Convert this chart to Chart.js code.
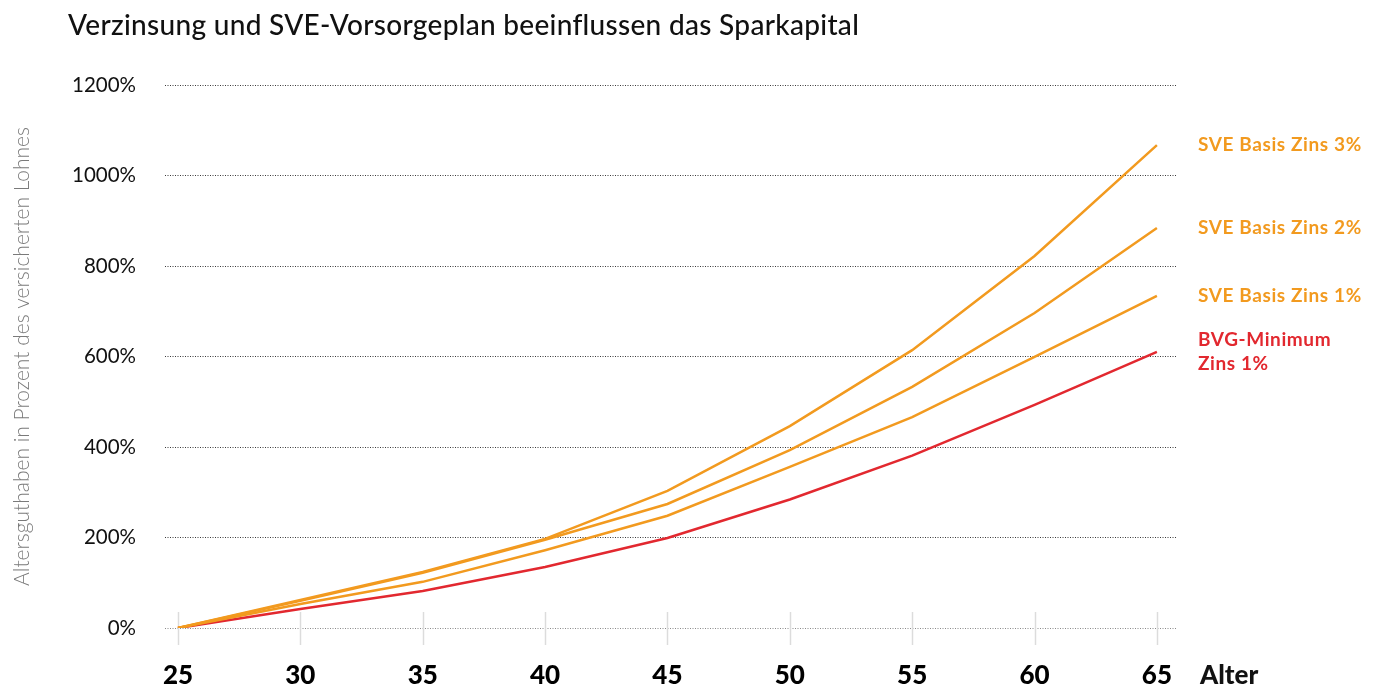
<!DOCTYPE html>
<html>
<head>
<meta charset="utf-8">
<script src="https://cdn.jsdelivr.net/npm/chart.js@4"></script>
<style>
    body { margin: 0; background: #fff; }
    #wrap { width: 1377px; height: 691px; }
</style>
</head>
<body>
<div id="wrap"><canvas id="chart" width="1377" height="691"></canvas></div>
<script>
const TITLE = 'Verzinsung und SVE-Vorsorgeplan beeinflussen das Sparkapital';
const Y_TITLE = 'Altersguthaben in Prozent des versicherten Lohnes';
const X_NAME = 'Alter';
const ORANGE = '#f29a1f';
const RED = '#e2282f';

const ages = [25, 30, 35, 40, 45, 50, 55, 60, 65];
const yTicks = [0, 200, 400, 600, 800, 1000, 1200];
const sve3 = [0, 62, 124, 197, 303, 446, 614, 822, 1067];
const sve2 = [0, 60, 122, 195, 274, 393, 533, 696, 884];
const sve1 = [0, 53, 102, 172, 248, 356, 466, 599, 734];
const bvg  = [0, 42, 82, 135, 199, 284, 381, 493, 610];
const seriesNames = [['SVE Basis Zins 3%'], ['SVE Basis Zins 2%'], ['SVE Basis Zins 1%'], ['BVG-Minimum', 'Zins 1%']];
const seriesColors = [ORANGE, ORANGE, ORANGE, RED];

const FONT = 'Lato, "Open Sans", sans-serif';

function toPoints(vals) {
    return ages.map((a, i) => ({x: a, y: vals[i]}));
}

// title, end labels, "Alter", short tick marks
const decorations = {
    id: 'decorations',
    beforeDatasetsDraw(chart) {
        const {ctx, scales: {x, y}} = chart;
        const y0 = y.getPixelForValue(0);
        ctx.save();
        ctx.strokeStyle = '#dcdcdc';
        ctx.lineWidth = 1.5;
        ages.forEach(a => {
            const px = Math.round(x.getPixelForValue(a)) + 0.5;
            ctx.beginPath();
            ctx.moveTo(px, y0 - 16);
            ctx.lineTo(px, y0 + 17);
            ctx.stroke();
        });
        ctx.restore();
    },
    afterDraw(chart) {
        const {ctx, chartArea, scales: {x}} = chart;
        ctx.save();
        ctx.fillStyle = '#111';
        ctx.font = '500 28px ' + FONT;
        ctx.textBaseline = 'middle';
        ctx.textAlign = 'left';
        ctx.letterSpacing = '0.3px';
        ctx.fillText(TITLE, 68, 26);

        ctx.letterSpacing = '0px';
        ctx.font = '900 26px ' + FONT;
        ctx.fillText(X_NAME, chartArea.right + 24, x.top + 32 + 15.6);

        ctx.font = 'bold 19px ' + FONT;
        ctx.letterSpacing = '0.6px';
        chart.data.datasets.forEach((ds, i) => {
            const meta = chart.getDatasetMeta(i);
            const last = meta.data[meta.data.length - 1];
            const lines = seriesNames[i];
            const lh = 24;
            ctx.fillStyle = seriesColors[i];
            lines.forEach((t, j) => {
                ctx.fillText(t, chartArea.right + 22, last.y + (j - (lines.length - 1) / 2) * lh);
            });
        });
        ctx.restore();
    }
};

const datasets = [sve3, sve2, sve1, bvg].map((vals, i) => ({
    label: seriesNames[i].join(' '),
    data: toPoints(vals),
    borderColor: seriesColors[i],
    borderWidth: 2.5,
    pointRadius: 0,
    tension: 0,
    fill: false,
    order: i === 3 ? 4 : i
}));

new Chart(document.getElementById('chart'), {
    type: 'line',
    data: {datasets},
    plugins: [decorations],
    options: {
        responsive: false,
        animation: false,
        devicePixelRatio: 1,
        layout: {padding: {top: 85, left: 10, right: 201, bottom: 0}},
        plugins: {legend: {display: false}, tooltip: {enabled: false}},
        scales: {
            x: {
                type: 'linear',
                min: 24.47,
                max: 65.78,
                afterBuildTicks: s => { s.ticks = ages.map(v => ({value: v})); },
                afterFit: s => { s.height = 63; },
                grid: {display: false, drawTicks: false},
                border: {display: false},
                ticks: {
                    padding: 32,
                    color: '#000',
                    font: {family: FONT, size: 26, weight: '900'},
                    maxRotation: 0
                }
            },
            y: {
                min: 0,
                max: 1200,
                afterBuildTicks: s => { s.ticks = yTicks.map(v => ({value: v})); },
                afterFit: s => { s.width = 155; },
                grid: {
                    drawTicks: false,
                    color: c => c.tick && c.tick.value === 0 ? '#8a8a8a' : '#3a3a3a',
                    lineWidth: 1
                },
                border: {display: false, dash: [1, 1.5]},
                ticks: {
                    padding: 29,
                    color: '#111',
                    font: {family: FONT, size: 20.5},
                    callback: v => v + '%'
                },
                title: {
                    display: true,
                    text: Y_TITLE,
                    color: '#7a7a7a',
                    font: {family: FONT, size: 21, weight: '300'},
                    padding: {top: 0, bottom: 0}
                }
            }
        }
    }
});
</script>
</body>
</html>
